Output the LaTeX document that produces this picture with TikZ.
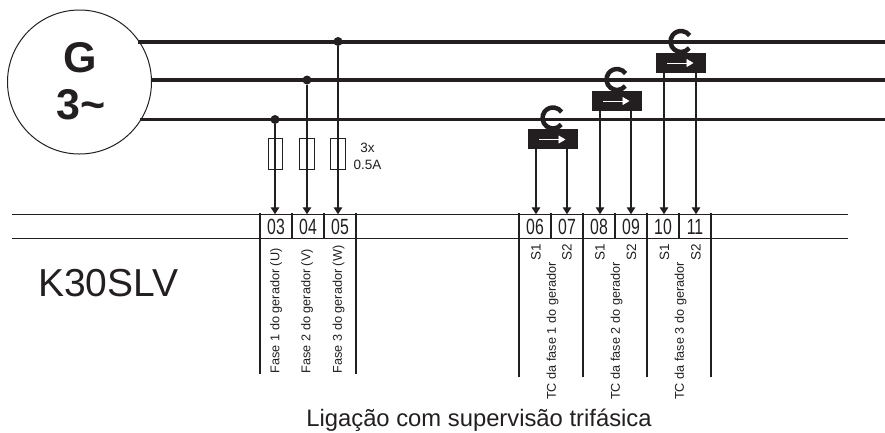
\documentclass[tikz,border=0pt]{standalone}
\usepackage{graphicx}
\usepackage{fontspec}
\setmainfont{Liberation Sans}
\usetikzlibrary{arrows.meta, positioning}
\definecolor{ink}{HTML}{231F20}

\begin{document}
\begin{tikzpicture}[x=1pt,y=-1pt,color=ink]
\tikzstyle{bus} = [line width=3.6pt]
\tikzstyle{rule} = [line width=0.9pt]
\tikzstyle{post} = [line width=1.3pt]
\tikzstyle{arrow} = [line width=1.3pt,-{Triangle[length=7pt,width=8.5pt]}]
\tikzstyle{dot} = [circle, fill=ink, inner sep=0pt, minimum size=9pt]
\tikzstyle{fuse} = [rectangle, draw=ink, line width=0.9pt, inner sep=0pt, minimum width=14.5pt, minimum height=31pt]
\tikzstyle{terminal} = [inner sep=0pt, minimum width=32pt, minimum height=24pt, font=\fontsize{22}{22}\selectfont]
\tikzstyle{ct} = [rectangle, fill=ink, inner sep=0pt, minimum width=50pt, minimum height=20pt]
\tikzstyle{ctring} = [line width=4.5pt]
\tikzstyle{small} = [font=\fontsize{12.7}{14}\selectfont]
\useasboundingbox (0,0) rectangle (885,432);

% generator and bars
\node (gen) [circle, draw=ink, line width=1pt, minimum size=144pt, inner sep=0pt] at (79.5,82) {};
\node (gname) [font=\bfseries\fontsize{43}{43}\selectfont] at (80.5,58) {G};
\node (gphases) [font=\bfseries\fontsize{43}{43}\selectfont] at (81,105) {3\char`\~};
\coordinate (endL1) at (885,42);
\coordinate (endL2) at (885,80);
\coordinate (endL3) at (885,119.5);
\draw [bus] (gen.center |- endL1) ++(58,0) -- (endL1);
\draw [bus] (gen.east |- endL2) -- (endL2);
\draw [bus] (gen.center |- endL3) ++(60,0) -- (endL3);

% terminal strip
\draw [rule] (12,214) -- (848,214);
\draw [rule] (12,238) -- (848,238);
\foreach \num/\xpos in {03/276,04/308,05/340,06/535,07/567,08/599,09/631,10/663,11/695}
  \node (term\num) [terminal] at (\xpos,226.5) {\scalebox{0.72}[1]{\num}};
\foreach \xpos in {292,324,551,615,679}
  \draw [post] (\xpos,213) -- (\xpos,238);
\foreach \xpos in {260,356}
  \draw [post] (\xpos,213) -- (\xpos,374);
\foreach \xpos in {519,583,647,711}
  \draw [post] (\xpos,213) -- (\xpos,377);

% voltage inputs
\node (dotU) [dot] at (275,119.5) {};
\node (dotV) [dot] at (307,80) {};
\node (dotW) [dot] at (338,41.5) {};
\node (fuseU) [fuse] at (275.5,154) {};
\node (fuseV) [fuse] at (307,154) {};
\node (fuseW) [fuse] at (338,154) {};
\draw [arrow] (dotU) -- (dotU |- term03.north);
\draw [arrow] (dotV) -- (dotV |- term04.north);
\draw [arrow] (dotW) -- (dotW |- term05.north);
\node (rating) [align=center, font=\fontsize{13.5}{17}\selectfont] at (367.5,156.5) {3x\\0.5A};

% current transformers
\node (ctA) [ct] at (553,139) {};
\node (ctB) [ct] at (617,100.5) {};
\node (ctC) [ct] at (681,62.5) {};
\foreach \ctname in {ctA,ctB,ctC} {
  \draw [ctring] (\ctname.center) ++(0,-21) ++(38:10.5) arc (38:325:10.5);
  \draw [line width=0.9pt, draw=white, fill=white, -{Triangle[length=7pt,width=8pt]}] (\ctname.center) ++(-14,0.5) -- ++(26.5,0);
}
\coordinate (s1A) at (536,149);
\coordinate (s2A) at (567,149);
\coordinate (s1B) at (600,110.5);
\coordinate (s2B) at (631,110.5);
\coordinate (s1C) at (664,72.5);
\coordinate (s2C) at (696,72.5);
\draw [arrow] (s1A) -- (s1A |- term06.north);
\draw [arrow] (s2A) -- (s2A |- term07.north);
\draw [arrow] (s1B) -- (s1B |- term08.north);
\draw [arrow] (s2B) -- (s2B |- term09.north);
\draw [arrow] (s1C) -- (s1C |- term10.north);
\draw [arrow] (s2C) -- (s2C |- term11.north);

% vertical labels
\foreach \num/\xpos/\txt in {1/276/U,2/307/V,3/338.5/W}
  \node (fase\num) [small, rotate=90, anchor=west, inner sep=0pt] at (\xpos,373.5) {Fase \num{} do gerador (\txt)};
\foreach \xpos/\lbl in {536/S1,567/S2,600/S1,631.5/S2,664.5/S1,696/S2}
  \node (sec\xpos) [small, rotate=90, font=\fontsize{13.5}{14}\selectfont] at (\xpos,252) {\lbl};
\foreach \num/\xpos in {1/552.5,2/616.5,3/680.5}
  \node (tc\num) [small, rotate=90, anchor=west, inner sep=0pt] at (\xpos,400) {TC da fase \num{} do gerador};

\node (device) [font=\fontsize{39}{39}\selectfont, anchor=west, inner sep=0pt] at (38,283) {K30SLV};
\node (caption) [font=\fontsize{23.8}{24}\selectfont] at (479,420) {Ligação com supervisão trifásica};
\end{tikzpicture}
\end{document}
